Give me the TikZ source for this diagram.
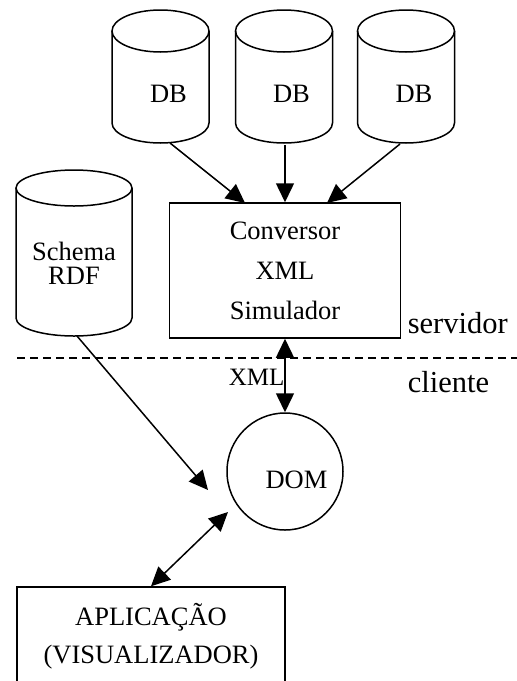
\documentclass[tikz,border=0pt]{standalone}
\usepackage{fontspec}
\setmainfont{Liberation Serif}
\usetikzlibrary{arrows.meta,shapes.geometric}
\begin{document}
\begin{tikzpicture}[x=1pt,y=-1pt, line width=1.5pt,
  every node/.style={font=\fontsize{26.5}{40}\selectfont, inner sep=0pt},
  box/.style={draw, rectangle, align=center},
  tip/.style={-{Triangle[length=19pt,width=18pt]}},
  dtip/.style={{Triangle[length=19pt,width=18pt]}-{Triangle[length=19pt,width=18pt]}},
  side/.style={font=\fontsize{30.5}{34}\selectfont, anchor=base west},
  xmllbl/.style={font=\fontsize{25}{30}\selectfont, anchor=base west}]

\useasboundingbox (0,0) rectangle (517,681);

% DB cylinders
\foreach \cx in {160.5,284,406}{
  \draw (\cx-48.5,31) -- (\cx-48.5,123) arc[start angle=180,end angle=360,x radius=48.5pt,y radius=20pt] -- (\cx+48.5,31);
  \draw (\cx,31) ellipse[x radius=48.5pt,y radius=21pt];
}
\node (db1) at (168.5,94) {DB};
\node (db2) at (291.5,94) {DB};
\node (db3) at (414,94) {DB};

% Schema cylinder
\draw (16,188) -- (16,318) arc[start angle=180,end angle=360,x radius=58pt,y radius=18pt] -- (132,188);
\draw (74,188) ellipse[x radius=58pt,y radius=18pt];
\node[align=center, font=\fontsize{26.5}{24}\selectfont] (schema) at (74,263) {Schema\\RDF};

% converter
\node[box, minimum width=231pt, minimum height=135pt] (conv) at (285,270.5) {Conversor\\XML\\Simulador};

% DOM
\node[draw, ellipse, minimum width=116pt, minimum height=117pt] (dom) at (285,471.5) {};
\node (domlbl) at (296.5,480) {DOM};

% application
\node[box, minimum width=268pt, minimum height=99pt, font=\fontsize{26.5}{38}\selectfont] (app) at (151,636.5) {APLICAÇÃO\\(VISUALIZADOR)};

% side labels
\node[side] (serv) at (407,333) {servidor};
\node[side] (cli) at (407,392) {cliente};
\node[xmllbl] (xml) at (228,385) {XML};

% dashed separator
\coordinate (dl) at (17,358);
\coordinate (dr) at (517,358);
\draw[dash pattern=on 8pt off 5pt, line width=1.3pt] (dl) -- (dr);

% arrows from DBs
\coordinate (db1b) at (170,143);
\coordinate (db2b) at (285,145);
\coordinate (db3b) at (400,144);
\coordinate (c1) at (245,203);
\coordinate (c3) at (327,203);
\draw[tip] (db1b) -- (c1);
\draw[tip] (db2b) -- (conv.north);
\draw[tip] (db3b) -- (c3);

% XML double arrow
\draw[dtip] (conv.south) -- (dom.north);

% schema arrow
\coordinate (sb) at (77,336);
\coordinate (se) at (208,490);
\draw[tip] (sb) -- (se);

% DOM - app
\coordinate (d1) at (228,512);
\draw[dtip] (d1) -- (app.north);
\end{tikzpicture}
\end{document}
